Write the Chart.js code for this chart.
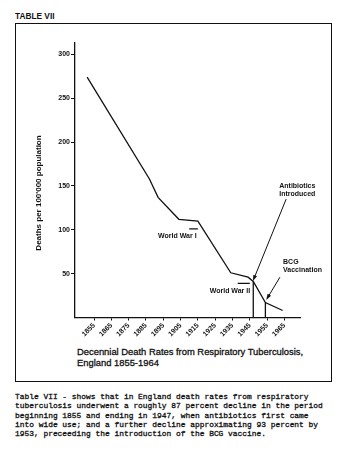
<!DOCTYPE html>
<html>
<head>
<meta charset="utf-8">
<script src="https://cdn.jsdelivr.net/npm/chart.js@4.4.1/dist/chart.umd.min.js"></script>
<style>
    body { margin: 0; width: 354px; height: 460px; background: #fff; position: relative; overflow: hidden;
           font-family: 'Liberation Sans', Arial, sans-serif; color: #111; }
    #tbl { position: absolute; left: 15px; top: 11px; font-weight: bold; font-size: 8.3px; }
    #box { position: absolute; left: 15px; top: 23px; width: 317px; height: 359px; border: 1.5px solid #111; box-sizing: border-box; }
    #title { position: absolute; left: 77px; top: 346px; font-size: 9.4px; line-height: 11px; -webkit-text-stroke: 0.3px #111; }
    #caption { position: absolute; left: 15px; top: 392px; font-family: 'Liberation Mono', monospace; font-size: 7.9px;
               line-height: 9.3px; white-space: pre; -webkit-text-stroke: 0.3px #111; }
    canvas { position: absolute; left: 0; top: 0; }
</style>
</head>
<body>
<div id="tbl">TABLE VII</div>
<div id="box"></div>
<div id="title">Decennial Death Rates from Respiratory Tuberculosis,<br>England 1855-1964</div>
<div id="caption">Table VII - shows that in England death rates from respiratory
tuberculosis underwent a roughly 87 percent decline in the period
beginning 1855 and ending in 1947, when antibiotics first came
into wide use; and a further decline approximating 93 percent by
1953, preceeding the introduction of the BCG vaccine.</div>
<canvas id="tbChart" width="354" height="460"></canvas>

<script>
// values
const years = [1851, 1887, 1892, 1904, 1915, 1934, 1944, 1947, 1954, 1964];
const deathRates = [274, 158, 137, 112, 110, 51, 46, 41, 17, 8];
const xTickYears = [1855, 1865, 1875, 1885, 1895, 1905, 1915, 1925, 1935, 1945, 1955, 1965];
const yTickValues = [50, 100, 150, 200, 250, 300];
const ww1Years = [1910, 1915];
const ww2Years = [1938, 1945];
const antibioticsYear = 1947;
const bcgYear = 1954;

const ink = '#111';
const fontFamily = "'Liberation Sans', Arial, sans-serif";

function rateAt(year) {
    return deathRates[years.indexOf(year)];
}

function segment(data) {
    return {
        data: data,
        borderColor: ink,
        borderWidth: 1.3,
        pointRadius: 0,
        tension: 0
    };
}

function arrow(ctx, x1, y1, x2, y2) {
    const a = Math.atan2(y2 - y1, x2 - x1);
    ctx.beginPath();
    ctx.moveTo(x1, y1);
    ctx.lineTo(x2 - 3 * Math.cos(a), y2 - 3 * Math.sin(a));
    ctx.stroke();
    ctx.beginPath();
    ctx.moveTo(x2, y2);
    ctx.lineTo(x2 - 6 * Math.cos(a) + 2 * Math.sin(a), y2 - 6 * Math.sin(a) - 2 * Math.cos(a));
    ctx.lineTo(x2 - 6 * Math.cos(a) - 2 * Math.sin(a), y2 - 6 * Math.sin(a) + 2 * Math.cos(a));
    ctx.closePath();
    ctx.fill();
}

const notes = {
    id: 'notes',
    afterDatasetsDraw(chart) {
        const { ctx, scales: { x, y } } = chart;
        ctx.save();
        ctx.fillStyle = ink;
        ctx.strokeStyle = ink;
        ctx.lineWidth = 1;
        ctx.textBaseline = 'middle';
        ctx.font = 'bold 7px ' + fontFamily;

        ctx.textAlign = 'left';
        ctx.fillText('World War I', x.getPixelForValue(1892), y.getPixelForValue(93));
        ctx.textAlign = 'right';
        ctx.fillText('World War II', x.getPixelForValue(1945.2), y.getPixelForValue(30));

        ctx.textAlign = 'left';
        ctx.fillText('Antibiotics', x.getPixelForValue(1962), y.getPixelForValue(150));
        ctx.fillText('Introduced', x.getPixelForValue(1962), y.getPixelForValue(141));
        ctx.fillText('BCG', x.getPixelForValue(1964.2), y.getPixelForValue(63));
        ctx.fillText('Vaccination', x.getPixelForValue(1964.2), y.getPixelForValue(54));

        arrow(ctx, x.getPixelForValue(1966), y.getPixelForValue(135),
              x.getPixelForValue(antibioticsYear - 0.2), y.getPixelForValue(rateAt(antibioticsYear) + 0.5));
        arrow(ctx, x.getPixelForValue(1962.4), y.getPixelForValue(46),
              x.getPixelForValue(bcgYear + 0.5), y.getPixelForValue(rateAt(bcgYear) + 3));

        // y axis title
        ctx.translate(39, 193);
        ctx.rotate(-Math.PI / 2);
        ctx.textAlign = 'center';
        ctx.font = 'bold 8px ' + fontFamily;
        ctx.fillText("Deaths per 100'000 population", 0, 0);
        ctx.restore();
    }
};

new Chart(document.getElementById('tbChart').getContext('2d'), {
    type: 'line',
    data: {
        datasets: [
            segment(years.map((yr, i) => ({ x: yr, y: deathRates[i] }))),
            segment([{ x: antibioticsYear, y: 0 }, { x: antibioticsYear, y: rateAt(antibioticsYear) }]),
            segment([{ x: bcgYear, y: 0 }, { x: bcgYear, y: rateAt(bcgYear) }]),
            segment([{ x: ww1Years[0], y: 101 }, { x: ww1Years[1], y: 101 }]),
            segment([{ x: ww2Years[0], y: 39 }, { x: ww2Years[1], y: 39 }])
        ]
    },
    options: {
        responsive: false,
        animation: false,
        layout: { padding: { top: 43, right: 54, left: 0, bottom: 0 } },
        plugins: {
            legend: { display: false },
            tooltip: { enabled: false }
        },
        scales: {
            x: {
                type: 'linear',
                min: 1844,
                max: 1974,
                afterBuildTicks: s => { s.ticks = xTickYears.map(v => ({ value: v })); },
                afterFit: s => { s.height = 142.5; },
                grid: { drawOnChartArea: false, tickLength: 3, color: ink },
                border: { color: ink, width: 1.3 },
                ticks: {
                    minRotation: 45,
                    maxRotation: 45,
                    padding: 1,
                    color: ink,
                    font: { family: fontFamily, size: 7, weight: 'bold' },
                    callback: v => String(v)
                }
            },
            y: {
                min: 0,
                max: 313,
                afterBuildTicks: s => { s.ticks = yTickValues.map(v => ({ value: v })); },
                afterFit: s => { s.width = 75; },
                grid: { drawOnChartArea: false, tickLength: 4, color: ink },
                border: { color: ink, width: 1.3 },
                ticks: {
                    padding: 1,
                    color: ink,
                    font: { family: fontFamily, size: 7, weight: 'bold' }
                }
            }
        }
    },
    plugins: [notes]
});
</script>
</body>
</html>
